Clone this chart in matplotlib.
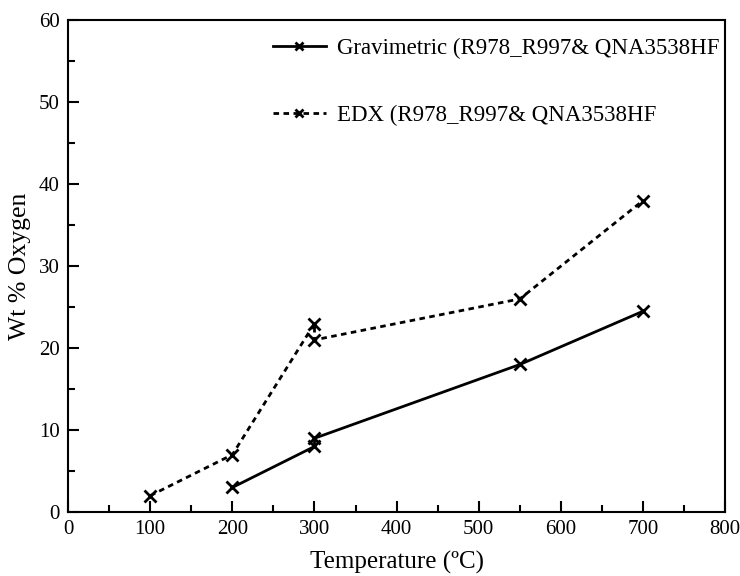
import matplotlib
matplotlib.use("Agg")
import matplotlib.pyplot as plt
from matplotlib.ticker import MultipleLocator

plt.rcParams['font.family'] = ['Liberation Serif', 'DejaVu Serif']

# Gravimetric data
grav_temp = [200, 300, 300, 550, 700]
grav_oxy = [3, 8, 9, 18, 24.5]

# EDX data
edx_temp = [100, 200, 300, 300, 550, 700]
edx_oxy = [2, 7, 23, 21, 26, 38]

fig = plt.figure(figsize=(7.4, 5.76), dpi=100)
ax = fig.add_axes([0.092, 0.111, 0.888, 0.854])

ax.plot(grav_temp, grav_oxy, color="black", linewidth=2.0, marker="x",
        markersize=8, markeredgewidth=2.0,
        label="Gravimetric (R978_R997& QNA3538HF")
ax.plot(edx_temp, edx_oxy, color="black", linewidth=2.0, linestyle=(0, (2, 1.6)),
        marker="x", markersize=8, markeredgewidth=2.0,
        label="EDX (R978_R997& QNA3538HF")

ax.set_xlim(0, 800)
ax.set_ylim(0, 60)
ax.xaxis.set_major_locator(MultipleLocator(100))
ax.xaxis.set_minor_locator(MultipleLocator(50))
ax.yaxis.set_major_locator(MultipleLocator(10))
ax.yaxis.set_minor_locator(MultipleLocator(5))
ax.tick_params(which="both", direction="in", top=False, right=False,
               width=1.5, labelsize=15, pad=6)
ax.tick_params(which="major", length=8)
ax.tick_params(which="minor", length=5)
for s in ax.spines.values():
    s.set_linewidth(1.5)

ax.set_xlabel("Temperature (ºC)", fontsize=18, labelpad=8)
ax.set_ylabel("Wt % Oxygen", fontsize=18.5, labelpad=6)

leg = ax.legend(loc="upper left", bbox_to_anchor=(0.312, 0.964), frameon=False,
                fontsize=16.5, handlelength=2.3, labelspacing=2.0,
                handletextpad=0.5, borderpad=0, borderaxespad=0, markerscale=0.8)

plt.savefig("out.png", dpi=100)
